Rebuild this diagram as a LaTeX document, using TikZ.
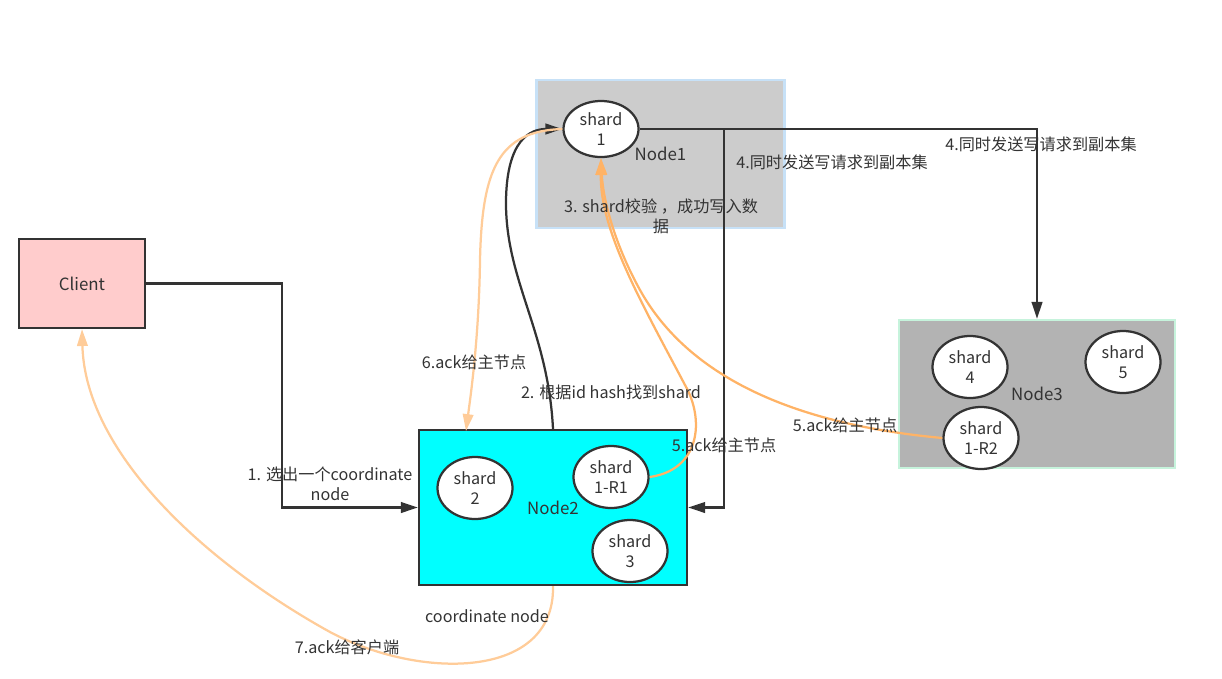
\documentclass[tikz,border=0pt]{standalone}
\usepackage{fontspec}
\setmainfont{Noto Sans CJK SC}
\usetikzlibrary{arrows.meta, shapes.geometric}

\definecolor{txtgray}{HTML}{333333}
\definecolor{edgegray}{HTML}{333333}
\definecolor{nodeonefill}{HTML}{CCCCCC}
\definecolor{nodeoneedge}{HTML}{C7E1F7}
\definecolor{nodetwofill}{HTML}{00FFFF}
\definecolor{nodethreefill}{HTML}{B3B3B3}
\definecolor{nodethreeedge}{HTML}{C6F3DC}
\definecolor{clientfill}{HTML}{FFCCCC}
\definecolor{ackorange}{HTML}{FFB366}
\definecolor{acklight}{HTML}{FFCC99}

\tikzset{
  box/.style={rectangle, draw=edgegray, line width=1.6pt, inner sep=0pt,
    text=txtgray, font=\fontsize{12}{14}\selectfont},
  shardnode/.style={ellipse, draw=edgegray, fill=white, line width=1.6pt,
    minimum width=1.875cm, minimum height=1.55cm, inner sep=0pt, align=center,
    text=txtgray, font=\fontsize{11.5}{14}\selectfont},
  lbl/.style={text=txtgray, font=\fontsize{11.5}{14}\selectfont, inner sep=0pt, align=center},
  conn/.style={draw=edgegray, line width=1.6pt, -{Triangle[length=12pt,width=7.5pt]}},
  ack/.style={draw=ackorange, line width=1.6pt, -{Triangle[length=12pt,width=7.5pt]}},
  acklite/.style={draw=acklight, line width=1.6pt, -{Triangle[length=12pt,width=7.5pt]}}
}

\begin{document}
\begin{tikzpicture}[x=0.025cm, y=-0.025cm]
\useasboundingbox (0,0) rectangle (1222,678);
%---------------------------------------------------
\node[box, fill=clientfill, minimum width=3.15cm, minimum height=2.225cm] (client) at (82,283.5) {Client};
\node[box, fill=nodeonefill, draw=nodeoneedge, minimum width=6.2cm, minimum height=3.7cm] (node1) at (660.5,154) {Node1};
\node[box, fill=nodetwofill, minimum width=6.7cm, minimum height=3.875cm] (node2) at (553,507.5) {Node2};
\node[box, fill=nodethreefill, draw=nodethreeedge, minimum width=6.9cm, minimum height=3.7cm] (node3) at (1037,394) {Node3};
%---------------------------------------------------
\node[shardnode, minimum height=1.4cm] (s1) at (601,129) {shard\\1};
\node[shardnode] (s2) at (475,488) {shard\\2};
\node[shardnode] (r1) at (611,477) {shard\\1-R1};
\node[shardnode] (s3) at (630,551) {shard\\3};
\node[shardnode] (s4) at (970,367) {shard\\4};
\node[shardnode] (s5) at (1123,362) {shard\\5};
\node[shardnode] (r2) at (981,438) {shard\\1-R2};
%---------------------------------------------------
\coordinate (split) at (724,129);
\coordinate (ackin) at (466,431);
\draw[conn] (client.east) -| (282,400) |- (node2.west);
\draw[conn] (node2.north) .. controls (548,330) and (505,280) .. (506,200)
  .. controls (507,140) and (530,129) .. (s1.west);
\draw[conn] (s1.east) -| (node3.north);
\draw[conn] (split) |- (node2.east);
%---------------------------------------------------
\draw[ack] (r1.east) .. controls (700,470) and (705,420) .. (685,385)
  .. controls (640,300) and (600,230) .. (s1.south);
\draw[ack] (r2.west) .. controls (800,425) and (690,380) .. (640,290)
  .. controls (615,245) and (603,200) .. (s1.south);
\draw[acklite] (s1.west) .. controls (498,131) and (482,170) .. (480,260)
  .. controls (479,340) and (470,400) .. (ackin);
\draw[acklite] (node2.south) .. controls (555,680) and (420,680) .. (330,632)
  .. controls (200,560) and (85,450) .. (client.south);
%---------------------------------------------------
\node[lbl] (l1) at (330,484) {1. 选出一个coordinate\\node};
\node[lbl] (l2) at (611,392) {2. 根据id hash找到shard};
\node[lbl] (l3) at (661,216) {3. shard校验 ，成功写入数\\据};
\node[lbl] (l4a) at (832,162) {4.同时发送写请求到副本集};
\node[lbl] (l4b) at (1041,144) {4.同时发送写请求到副本集};
\node[lbl] (l5a) at (724,445) {5.ack给主节点};
\node[lbl] (l5b) at (845,425) {5.ack给主节点};
\node[lbl] (l6) at (474,362) {6.ack给主节点};
\node[lbl] (l7) at (347,647) {7.ack给客户端};
\node[lbl] (lcoord) at (487,616) {coordinate node};

\end{tikzpicture}
\end{document}
